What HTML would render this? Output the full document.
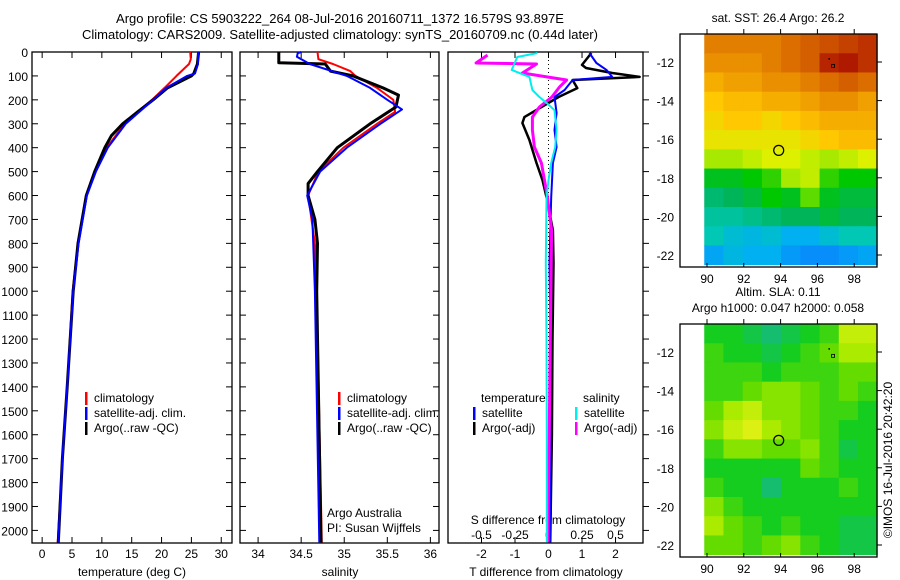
<!DOCTYPE html>
<html><head><meta charset="utf-8"><style>
body{margin:0;background:#fff}
svg{display:block;font-family:"Liberation Sans",sans-serif}
text{font-size:12px;fill:#000}
</style></head><body>
<svg id="fig" width="900" height="580" viewBox="0 0 900 580">
<text x="340" y="23" text-anchor="middle" style="font-size:13px">Argo profile: CS 5903222_264 08-Jul-2016 20160711_1372 16.579S 93.897E</text>
<text x="340" y="39" text-anchor="middle" style="font-size:13px">Climatology: CARS2009. Satellite-adjusted climatology: synTS_20160709.nc (0.44d later)</text>
</svg>
<script>
// ---- profile data ----
const tDepthR=[0,30,50,100,150,200,250,300,400,500,600,800,1000,1400,1700,2050];
const tValR=[24.8,24.9,24.6,22.5,20.5,18.4,16,13.8,10.8,8.9,7.4,6.0,5.1,4.2,3.4,2.6];
const tDepthB=[0,50,90,100,150,200,250,300,400,500,600,800,1000,1400,1700,2050];
const tValB=[26.1,26.1,25.6,24.3,20.8,18.6,16.3,14.0,11.0,9.0,7.5,6.1,5.2,4.2,3.4,2.7];
const tDepthK=[0,50,90,100,150,200,250,300,350,400,500,600,800,1000,1400,1700,2050];
const tValK=[26.2,26.0,25.4,25.0,21.0,18.6,16.0,13.5,11.6,10.5,8.8,7.4,6.0,5.2,4.2,3.4,2.7];

const sDepthR=[0,30,50,80,100,150,200,250,300,400,500,600,800,1000,2050];
const sValR=[34.69,34.70,34.87,35.07,35.13,35.38,35.57,35.59,35.38,34.99,34.70,34.58,34.66,34.68,34.74];
const sDepthB=[0,5,20,50,100,150,200,240,300,400,500,600,700,1000,2050];
const sValB=[34.5,34.46,34.45,34.6,35.03,35.3,35.5,35.67,35.42,35.03,34.72,34.57,34.63,34.66,34.71];
const sDepthK=[0,45,50,80,100,150,180,230,300,400,500,550,600,700,800,1000,2050];
const sValK=[34.24,34.24,34.78,34.84,35.1,35.45,35.63,35.6,35.3,34.92,34.69,34.58,34.58,34.66,34.69,34.68,34.73];

const dDepthTB=[4,46,75,104,117,159,188,255,326,397,464,607,883,1200,1600,2050];
const dValTB=[1.22,1.43,1.73,1.9,0.72,0.48,0.18,0.24,0.18,0.24,0.13,0.08,0.03,0.06,0.05,0.04];
const dDepthTK=[4,54,67,88,104,117,151,188,272,297,368,464,536,607,745,883,1200,1600,2050];
const dValTK=[1.28,1.0,1.12,1.9,2.72,0.72,0.86,0.3,-0.72,-0.78,-0.57,-0.36,-0.18,-0.06,0.13,0.15,0.12,0.1,0.05];
const dDepthSK=[13,46,50,88,117,146,188,230,272,326,397,464,536,607,745,1200,1600,2050];
const dValSK=[-0.455,-0.54,-0.09,-0.195,0.135,0.083,0.025,-0.068,-0.12,-0.12,-0.105,-0.053,-0.03,-0.008,0.023,0.013,0.005,-0.005];
const dDepthSS=[4,21,75,104,159,188,213,243,326,397,464,536,607,883,1200,1600,2050];
const dValSS=[-0.083,-0.233,-0.275,-0.143,-0.12,-0.068,-0.015,0.045,0.06,0.05,0.02,0.0,-0.015,-0.02,-0.015,-0.013,-0.013];

const depthTicks=[0,100,200,300,400,500,600,700,800,900,1000,1100,1200,1300,1400,1500,1600,1700,1800,1900,2000];
const tempTicks=[0,5,10,15,20,25,30];
const salTicks=[34,34.5,35,35.5,36];
const tdTicks=[-2,-1,0,1,2];
const sdTicks=[-0.5,-0.25,0,0.25,0.5];
const sdLabels=["-0.5","-0.25","0","0.25","0.5"];

// ---- map data (rows lat -11..-22, cols lon 90..98) ----
const sstRows=[
[26.9,26.9,26.9,26.9,27.0,27.1,27.2,27.3,27.4],
[26.8,26.8,26.8,26.9,27.0,27.1,27.5,27.6,27.4],
[26.6,26.7,26.7,26.8,26.8,26.9,27.0,27.1,27.0],
[26.4,26.5,26.5,26.6,26.6,26.7,26.8,26.8,26.7],
[26.3,26.4,26.4,26.3,26.4,26.5,26.6,26.6,26.6],
[26.2,26.2,26.2,26.2,26.2,26.3,26.4,26.5,26.5],
[25.9,25.9,26.0,26.1,26.1,26.0,25.9,26.0,26.1],
[25.4,25.4,25.5,25.6,25.9,26.0,25.6,25.5,25.5],
[25.1,25.2,25.3,25.5,25.4,25.7,25.4,25.3,25.3],
[24.9,24.9,25.0,25.1,25.2,25.2,25.3,25.2,25.2],
[24.8,24.6,24.5,24.6,24.4,24.4,24.6,24.8,24.8],
[24.3,24.5,24.4,24.4,24.2,24.1,24.1,24.2,24.3]];
const slaRows=[
[0.0,0.0,-0.05,-0.1,-0.05,0.0,0.05,0.25,0.25],
[0.05,0.0,0.0,-0.05,0.0,0.05,0.1,0.2,0.2],
[0.05,0.05,0.05,0.0,0.05,0.05,0.05,0.1,0.1],
[0.05,0.05,0.1,0.15,0.15,0.1,0.05,0.1,0.05],
[0.1,0.2,0.25,0.15,0.15,0.1,0.05,0.05,0.0],
[0.15,0.25,0.3,0.2,0.15,0.1,0.05,0.0,0.0],
[0.05,0.15,0.15,0.1,0.1,0.15,0.05,-0.05,0.0],
[0.0,0.0,0.0,0.0,0.0,0.1,0.05,0.0,0.0],
[0.05,0.0,0.0,-0.1,0.0,0.0,0.0,0.05,0.0],
[0.15,0.05,0.0,0.0,0.0,0.0,0.0,0.0,0.0],
[0.2,0.1,0.05,0.0,0.05,0.0,0.0,-0.05,-0.05],
[0.1,0.1,0.05,0.1,0.15,0.05,0.0,-0.05,-0.05]];
const lonTicks=[90,92,94,96,98];
const latTicks=[-12,-14,-16,-18,-20,-22];
const floatLon=93.897, floatLat=-16.579;

const NS="http://www.w3.org/2000/svg";
const svg=document.getElementById('fig');
function el(tag,attrs,parent){const e=document.createElementNS(NS,tag);for(const k in attrs)e.setAttribute(k,attrs[k]);(parent||svg).appendChild(e);return e;}
function txt(x,y,s,anchor,parent){const t=el('text',{x:x,y:y,'text-anchor':anchor||'start'},parent);t.textContent=s;return t;}

const yTop=52,yBot=543;
const yD=d=>yTop+d*0.2392;
const panels=[
 {name:'temperature',x0:32,x1:232,v0:-1.7,v1:31.8},
 {name:'salinity',x0:240,x1:439,v0:33.79,v1:36.1},
 {name:'difference',x0:448,x1:643,v0:-3.0,v1:2.82}];
panels.forEach(p=>{p.sx=v=>p.x0+(v-p.v0)/(p.v1-p.v0)*(p.x1-p.x0);});

panels.forEach((p,i)=>{
  const g=el('g',{});
  
  
  const r=el('rect',{x:p.x0,y:yTop,width:p.x1-p.x0,height:yBot-yTop,fill:'none',stroke:'#000','stroke-width':1.3},g);
  
  
  depthTicks.forEach(d=>{
    const y=yD(d);
    if(i<2){el('line',{x1:p.x0,x2:p.x0+6,y1:y,y2:y,stroke:'#000'},g);el('line',{x1:p.x1,x2:p.x1-6,y1:y,y2:y,stroke:'#000'},g);}
    else{el('line',{x1:p.x1,x2:p.x1+6,y1:y,y2:y,stroke:'#000'},g);}
  });
});
depthTicks.forEach(d=>{const t=txt(28,yD(d)+5,String(d),'end');
 
 });

function xTicks(p,vals,labels,yLab){
  vals.forEach((v,k)=>{const x=p.sx(v);
    el('line',{x1:x,x2:x,y1:yBot,y2:yBot-6,stroke:'#000'});
    el('line',{x1:x,x2:x,y1:yTop,y2:yTop+6,stroke:'#000'});
    const t=txt(x,yLab,labels?labels[k]:String(v),'middle');
    
    });
}
xTicks(panels[0],tempTicks,null,558);
xTicks(panels[1],salTicks,null,558);
xTicks(panels[2],tdTicks,null,558);
const P3=panels[2];
sdTicks.forEach((v,k)=>{const t=txt(P3.sx(v*4),539,sdLabels[k],'middle');
 
 });
[['temperature (deg C)',132,'temperature-x-axis-title'],['salinity',340,'salinity-x-axis-title'],['T difference from climatology',546,'t-diff-x-axis-title']].forEach(a=>{
 const t=txt(a[1],576,a[0],'middle');
 
 });
{const t=txt(548,524,'S difference from climatology','middle');
 
 }
el('line',{x1:P3.sx(0),x2:P3.sx(0),y1:yTop,y2:yBot,stroke:'#000','stroke-dasharray':'1,3'});

function series(p,depths,vals,color,w,name,scale){
  const pts=depths.map((d,k)=>p.sx(vals[k]*(scale||1)).toFixed(1)+','+yD(d).toFixed(1)).join(' ');
  const l=el('polyline',{points:pts,fill:'none',stroke:color,'stroke-width':w,'stroke-linejoin':'round'});
  
  
}
series(panels[0],tDepthR,tValR,'#f00',2,'temp-climatology-line');
series(panels[0],tDepthK,tValK,'#000',3,'temp-argo-line');
series(panels[0],tDepthB,tValB,'#00f',2,'temp-satellite-line');
series(panels[1],sDepthR,sValR,'#f00',2,'sal-climatology-line');
series(panels[1],sDepthK,sValK,'#000',3,'sal-argo-line');
series(panels[1],sDepthB,sValB,'#00f',2,'sal-satellite-line');
series(P3,dDepthTK,dValTK,'#000',2.5,'tdiff-argo-line');
series(P3,dDepthTB,dValTB,'#00f',2,'tdiff-satellite-line');
series(P3,dDepthSK,dValSK,'#f0f',3,'sdiff-argo-line',4);
series(P3,dDepthSS,dValSS,'#0ee',2,'sdiff-satellite-line',4);

function legend(x,y,color,label,name){
  el('rect',{x:x,y:y-10,width:2.5,height:13,fill:color});
  const t=txt(x+9,y,label);
  
  
}
legend(85,402,'#f00','climatology','legend-climatology');
legend(85,417,'#00f','satellite-adj. clim.','legend-satellite-adj');
legend(85,432,'#000','Argo(..raw -QC)','legend-argo');
legend(338,402,'#f00','climatology','legend-sal-climatology');
legend(338,417,'#00f','satellite-adj. clim.','legend-sal-satellite-adj');
legend(338,432,'#000','Argo(..raw -QC)','legend-sal-argo');
{const t=txt(481,402,'temperature');}
{const t=txt(583,402,'salinity');}
legend(473,417,'#00f','satellite','legend-t-satellite');
legend(473,432,'#000','Argo(-adj)','legend-t-argo');
legend(575,417,'#0ee','satellite','legend-s-satellite');
legend(575,432,'#f0f','Argo(-adj)','legend-s-argo');
{const t=txt(327,517,'Argo Australia');}
{const t=txt(327,532,'PI: Susan Wijffels');}

// ---- maps ----
const sstStops=[[24.0,[10,130,255]],[24.4,[0,176,240]],[24.8,[0,200,180]],[25.2,[0,180,90]],[25.5,[0,200,0]],[25.8,[140,230,0]],[26.1,[220,240,0]],[26.4,[255,200,0]],[26.7,[240,160,0]],[27.0,[220,110,0]],[27.4,[190,50,0]],[27.8,[160,0,0]]];
const slaStops=[[-0.1,[20,190,110]],[0,[20,205,30]],[0.1,[100,220,0]],[0.2,[170,235,0]],[0.3,[220,240,20]]];
function cmap(stops,v){
  if(v<=stops[0][0])return 'rgb('+stops[0][1]+')';
  for(let i=1;i<stops.length;i++){if(v<=stops[i][0]){const a=stops[i-1],b=stops[i],f=(v-a[0])/(b[0]-a[0]);
    return 'rgb('+a[1].map((c,k)=>Math.round(c+(b[1][k]-c)*f)).join(',')+')';}}
  return 'rgb('+stops[stops.length-1][1]+')';
}
function drawMap(oy,rows,stops,name,t1,t2){
  const g=el('g',{});
  
  
  const lx=lon=>707+(lon-90)*18.4;
  const ly=lat=>oy+62+(-12-lat)*19.3;
  const lon0=89.85,lat0=-10.55,dlon=(99.25-89.85)/9,dlat=(22.5-10.55)/12;
  rows.forEach((row,r)=>row.forEach((v,c)=>{
    const x=lx(lon0+c*dlon),y=ly(lat0-r*dlat);
    const cell=el('rect',{x:x,y:y,width:lx(lon0+(c+1)*dlon)-x+0.5,height:ly(lat0-(r+1)*dlat)-y+0.5,fill:cmap(stops,v)},g);
    
    
  }));
  el('rect',{x:680,y:oy+34,width:197,height:233,fill:'none',stroke:'#000','stroke-width':1.3},g);
  lonTicks.forEach(l=>{const x=lx(l);el('line',{x1:x,x2:x,y1:oy+34,y2:oy+29,stroke:'#000'},g);
    el('line',{x1:x,x2:x,y1:oy+267,y2:oy+263,stroke:'#000'},g);
    const t=txt(x,oy+283,String(l),'middle',g);});
  latTicks.forEach(l=>{const y=ly(l);el('line',{x1:877,x2:882,y1:y,y2:y,stroke:'#000'},g);
    const t=txt(674,y+5,String(l),'end',g);});
  el('rect',{x:lx(96.6),y:ly(-11.8),width:1.5,height:1.5,fill:'#000'},g);
  el('rect',{x:lx(96.85)-1.5,y:ly(-12.2)-1.5,width:3,height:3,fill:'none',stroke:'#000','stroke-width':0.8},g);
  const c=el('circle',{cx:lx(floatLon),cy:ly(floatLat),r:5,fill:'none',stroke:'#000','stroke-width':1.2},g);
  
  
  const a=txt(778,oy+22-(t2?16:0),t1,'middle',g);
  if(t2){const b=txt(778,oy+22,t2,'middle',g);}
}
drawMap(0,sstRows,sstStops,'sst-map','sat. SST: 26.4 Argo: 26.2');
drawMap(290,slaRows,slaStops,'sla-map','Altim. SLA: 0.11','Argo h1000: 0.047 h2000: 0.058');
{const t=txt(0,0,'©IMOS 16-Jul-2016 20:42:20','middle');
 t.setAttribute('transform','translate(892,460) rotate(-90)');
 
 }
</script>
</body></html>
